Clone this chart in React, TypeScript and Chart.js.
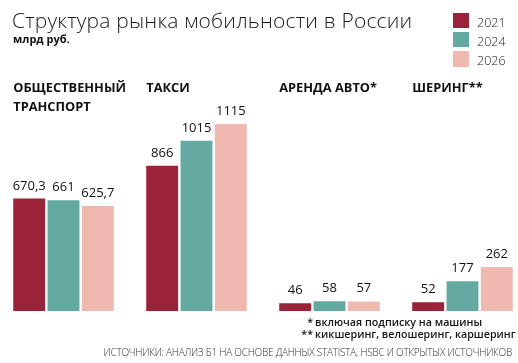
import React, { useEffect, useRef } from "react";
import { Chart, registerables } from "chart.js";

Chart.register(...registerables);

const categories = ["ОБЩЕСТВЕННЫЙ\nТРАНСПОРТ", "ТАКСИ", "АРЕНДА АВТО*", "ШЕРИНГ**"];
const years = ["2021", "2024", "2026"];
const values2021 = [670.3, 866, 46, 52];
const values2024 = [661, 1015, 58, 177];
const values2026 = [625.7, 1115, 57, 262];
const colors = ["#9A2339", "#65A9A3", "#EFB9B0"];
const yMax = 1300;

const fmt = (v: number) => String(v).replace(".", ",");

const labelPlugin = {
  id: "valueAndGroupLabels",
  afterDatasetsDraw(chart: any) {
    const ctx = chart.ctx;
    ctx.save();
    ctx.font = '500 13px "Open Sans"';
    ctx.fillStyle = "#111";
    ctx.textAlign = "center";
    ctx.textBaseline = "alphabetic";
    chart.data.datasets.forEach((ds: any, i: number) => {
      const meta = chart.getDatasetMeta(i);
      meta.data.forEach((bar: any, j: number) => {
        ctx.fillText(fmt(ds.data[j]), bar.x, bar.y - 9);
      });
    });
    ctx.font = '700 12.8px "Open Sans"';
    ctx.textAlign = "left";
    const meta0 = chart.getDatasetMeta(0);
    categories.forEach((c, j) => {
      const bar: any = meta0.data[j];
      const x = bar.x - bar.width / 2;
      c.split("\n").forEach((line, k) => ctx.fillText(line, x, 91.5 + k * 19.5));
    });
    ctx.restore();
  },
};

export default function App() {
  const ref = useRef<HTMLCanvasElement | null>(null);
  useEffect(() => {
    if (!ref.current) return;
    const chart = new Chart(ref.current, {
      type: "bar",
      data: {
        labels: categories,
        datasets: [values2021, values2024, values2026].map((d, i) => ({
          label: years[i],
          data: d,
          backgroundColor: colors[i],
          borderWidth: 0,
          categoryPercentage: 0.774,
          barPercentage: 0.93,
        })),
      },
      options: {
        responsive: false,
        maintainAspectRatio: false,
        animation: false,
        layout: { padding: { top: 93, bottom: 52, left: 0, right: 0 } },
        plugins: { legend: { display: false }, tooltip: { enabled: false }, title: { display: false } },
        scales: {
          x: { display: false, grid: { display: false } },
          y: { display: false, min: 0, max: yMax, grid: { display: false } },
        },
      },
      plugins: [labelPlugin],
    });
    return () => chart.destroy();
  }, []);

  const font = '"Open Sans", sans-serif';
  const note = { position: "absolute" as const, fontSize: 10.7, lineHeight: "11px", fontWeight: 600, whiteSpace: "nowrap" as const, color: "#151515" };
  return (
    <div style={{ position: "fixed", left: 0, top: 0, width: 518, height: 363, overflow: "hidden", background: "#fff", fontFamily: font, color: "#111" }}>
      <canvas ref={ref} width={532} height={363} style={{ position: "absolute", left: -3, top: 0, width: 532, height: 363 }} />
      <div style={{ position: "absolute", left: 12, top: 10, fontSize: 21, lineHeight: "21px", fontWeight: 300, whiteSpace: "nowrap", color: "#1a1a1a", letterSpacing: 0.2 }}>
        Структура рынка мобильности в России
      </div>
      <div style={{ position: "absolute", left: 13, top: 33, fontSize: 11, lineHeight: "11px", fontWeight: 700, whiteSpace: "nowrap" }}>
        млрд руб.
      </div>
      {years.map((y, i) => (
        <div key={y}>
          <div style={{ position: "absolute", left: 453, top: 12.7 + i * 19.2, width: 15.5, height: 15.5, background: colors[i] }} />
          <div style={{ position: "absolute", left: 477, top: 16.7 + i * 19.2, fontSize: 12.5, lineHeight: "12.5px", fontWeight: 300, color: "#222" }}>{y}</div>
        </div>
      ))}
      <div style={{ ...note, right: 518 - 313, top: 317 }}>*</div>
      <div style={{ ...note, left: 315, top: 317 }}>включая подписку на машины</div>
      <div style={{ ...note, right: 518 - 313, top: 329 }}>**</div>
      <div style={{ ...note, left: 315, top: 329 }}>кикшеринг, велошеринг, каршеринг</div>
      <div style={{ position: "absolute", right: 6, top: 347, fontSize: 10, lineHeight: "10px", fontWeight: 300, whiteSpace: "nowrap", color: "#333", letterSpacing: -0.25 }}>
        ИСТОЧНИКИ: АНАЛИЗ Б1 НА ОСНОВЕ ДАННЫХ STATISTA, HSBC И ОТКРЫТЫХ ИСТОЧНИКОВ
      </div>
    </div>
  );
}
